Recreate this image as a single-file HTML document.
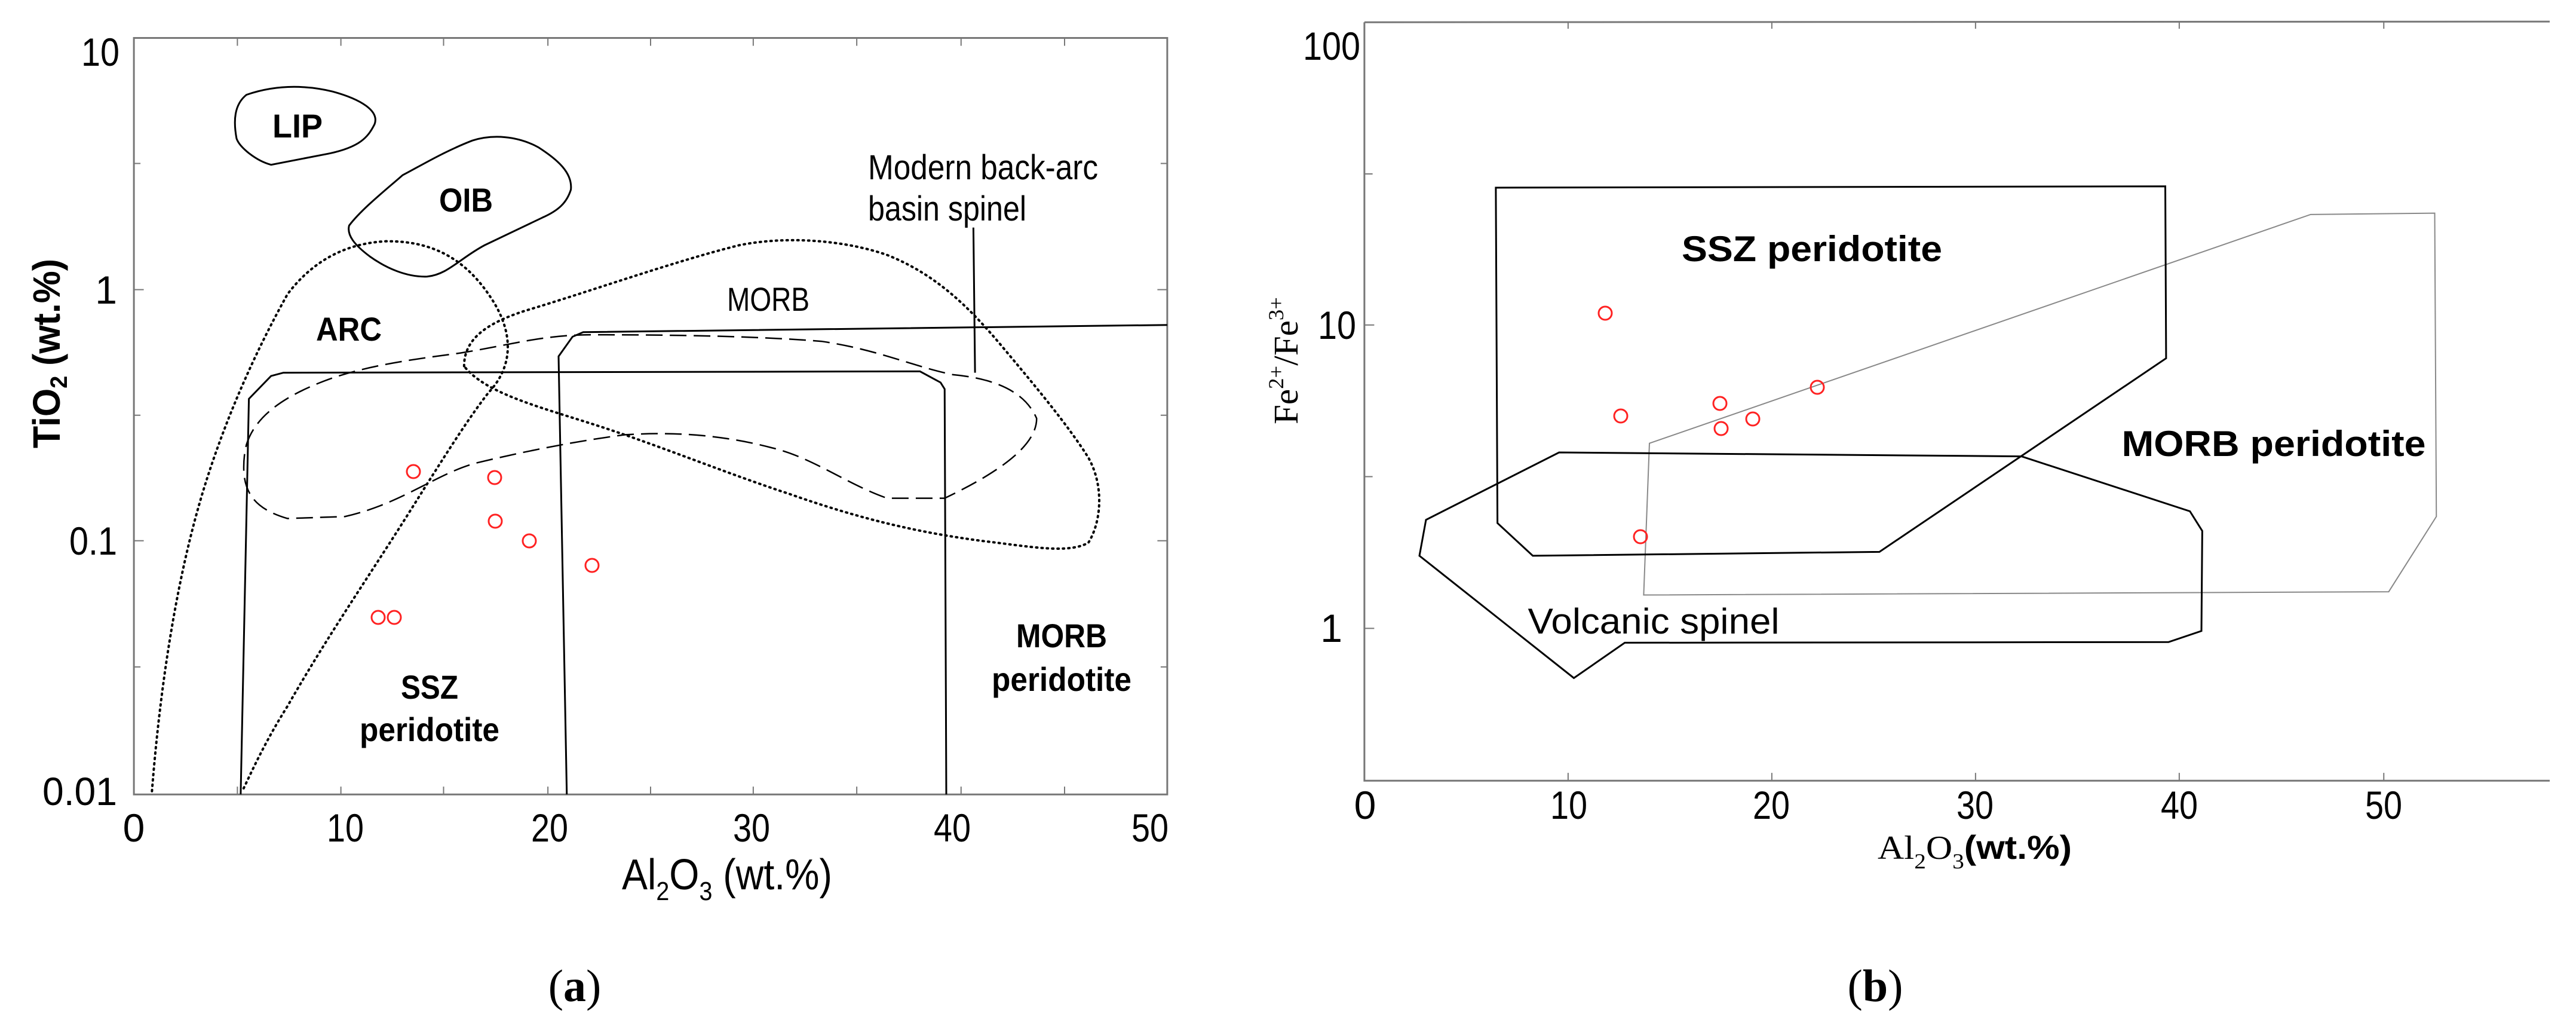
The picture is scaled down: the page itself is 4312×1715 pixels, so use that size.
<!DOCTYPE html>
<html><head><meta charset="utf-8"><style>
html,body{margin:0;padding:0;background:#fff;}
svg{display:block;}
.t{font-family:"Liberation Sans",sans-serif;fill:#000;}
.s{font-family:"Liberation Serif",serif;fill:#000;}
</style></head><body>
<svg width="4312" height="1715" viewBox="0 0 4312 1715" xmlns="http://www.w3.org/2000/svg">
<rect width="4312" height="1715" fill="#fff"/>

<!-- ============ PLOT A ============ -->
<g transform="scale(1.375,1.094)" fill="none" stroke="#000">
  <!-- axes frame -->
  <rect x="163" y="58" width="1258" height="1157" stroke="#777" stroke-width="3" vector-effect="non-scaling-stroke"/>
  <!-- ticks -->
  <g stroke="#777" stroke-width="2" vector-effect="non-scaling-stroke">
    <path vector-effect="non-scaling-stroke" d="M289,58v12 M415,58v12 M540,58v12 M667,58v12 M792,58v12 M917,58v12 M1043,58v12 M1170,58v12 M1296,58v12
    M289,1215v-12 M415,1215v-12 M540,1215v-12 M667,1215v-12 M792,1215v-12 M917,1215v-12 M1043,1215v-12 M1170,1215v-12 M1296,1215v-12
    M163,443h12 M163,827h12 M163,250h8 M163,635h8 M163,1020h8
    M1421,443h-12 M1421,827h-12 M1421,250h-8 M1421,635h-8 M1421,1020h-8"/>
  </g>
  <!-- LIP -->
  <path vector-effect="non-scaling-stroke" stroke-width="3" d="M300,145 C330,132 365,128 405,140 C440,152 462,170 456,190 C448,210 438,225 400,235 L330,252 C312,246 292,226 288,212 C284,185 285,160 300,145 Z"/>
  <!-- OIB -->
  <path vector-effect="non-scaling-stroke" stroke-width="3" d="M425,345 C440,320 470,290 490,268 C510,255 540,232 575,215 C600,205 630,208 655,225 C680,245 697,265 695,290 C690,310 680,322 660,333 L590,375 C560,395 545,420 520,423 C495,424 470,410 450,392 C432,375 422,360 425,345 Z"/>
  <!-- ARC dotted -->
  <path vector-effect="non-scaling-stroke" stroke-width="4" stroke-dasharray="2,7" stroke-linecap="round" d="M185,1210 C195,1050 215,880 250,740 C275,640 310,540 350,450 C380,400 420,372 470,369 C530,368 570,400 600,460 C625,510 625,560 595,600 C570,640 540,700 500,780 C450,880 400,970 350,1080 C325,1130 310,1170 295,1210"/>
  <!-- MORB dotted -->
  <path vector-effect="non-scaling-stroke" stroke-width="4" stroke-dasharray="2,7" stroke-linecap="round" d="M565,560 C565,520 590,495 640,475 C720,445 820,400 900,375 C960,360 1030,368 1080,390 C1140,420 1180,470 1220,530 C1260,590 1300,650 1325,700 C1345,745 1340,800 1325,830 C1300,848 1250,835 1200,828 C1120,815 1050,795 960,755 C880,722 800,680 720,648 C650,620 590,600 565,560 Z"/>
  <!-- dashed field -->
  <path vector-effect="non-scaling-stroke" stroke-width="2.5" stroke-dasharray="28,12" d="M300,680 C310,640 340,610 390,585 C440,560 500,550 560,540 C620,528 660,512 720,512 C820,512 920,514 1000,522 C1070,535 1110,560 1160,573 C1220,580 1250,605 1262,640 C1262,680 1220,720 1150,762 L1080,762 C1030,740 990,700 940,685 C880,665 820,660 760,665 C700,675 640,690 580,708 C530,725 490,770 420,790 L350,793 C315,780 300,760 297,725 C296,705 298,690 300,680 Z"/>
  <!-- solid boxes -->
  <path vector-effect="non-scaling-stroke" stroke-width="3" d="M293,1215 L303,610 L330,575 L345,570 L1120,568 L1145,585 L1150,595 L1152,1215"/>
  <path vector-effect="non-scaling-stroke" stroke-width="3" d="M690,1215 L680,545 L697,515 L710,508 L1421,497"/>
  <path vector-effect="non-scaling-stroke" stroke-width="3" d="M1185,348 L1187,570"/>
</g>
<!-- red points a -->
<g fill="none" stroke="#f22" stroke-width="3">
  <circle cx="692" cy="789" r="11"/><circle cx="828" cy="799" r="11"/><circle cx="829" cy="872" r="11"/>
  <circle cx="886" cy="905" r="11"/><circle cx="991" cy="946" r="11"/><circle cx="633" cy="1033" r="11"/><circle cx="660" cy="1033" r="11"/>
</g>
<!-- tick labels a -->
<g class="t" font-size="66" text-anchor="end">
  <text x="200" y="110" textLength="64" lengthAdjust="spacingAndGlyphs">10</text>
  <text x="196" y="508">1</text>
  <text x="196" y="928" textLength="80" lengthAdjust="spacingAndGlyphs">0.1</text>
  <text x="196" y="1347" textLength="125" lengthAdjust="spacingAndGlyphs">0.01</text>
</g>
<g class="t" font-size="66" text-anchor="middle">
  <text x="224" y="1408">0</text>
  <text x="578" y="1408" textLength="62" lengthAdjust="spacingAndGlyphs">10</text>
  <text x="920" y="1408" textLength="62" lengthAdjust="spacingAndGlyphs">20</text>
  <text x="1258" y="1408" textLength="62" lengthAdjust="spacingAndGlyphs">30</text>
  <text x="1594" y="1408" textLength="62" lengthAdjust="spacingAndGlyphs">40</text>
  <text x="1925" y="1408" textLength="62" lengthAdjust="spacingAndGlyphs">50</text>
</g>
<text class="t" x="1041" y="1488" font-size="72" textLength="352" lengthAdjust="spacingAndGlyphs">Al<tspan font-size="44" dy="18">2</tspan><tspan dy="-18">O</tspan><tspan font-size="44" dy="18">3</tspan><tspan dy="-18"> (wt.%)</tspan></text>
<text class="t" font-weight="bold" font-size="64" transform="translate(100,750) rotate(-90)" textLength="317" lengthAdjust="spacingAndGlyphs">TiO<tspan font-size="40" dy="12">2</tspan><tspan dy="-12"> (wt.%)</tspan></text>
<text class="s" x="962" y="1675" font-size="76" text-anchor="middle">(<tspan font-weight="bold">a</tspan>)</text>
<!-- region labels a -->
<g class="t" font-size="56" text-anchor="middle">
  <text x="498" y="230" font-weight="bold" textLength="84" lengthAdjust="spacingAndGlyphs">LIP</text>
  <text x="780" y="354" font-weight="bold" textLength="90" lengthAdjust="spacingAndGlyphs">OIB</text>
  <text x="584" y="570" font-weight="bold" textLength="110" lengthAdjust="spacingAndGlyphs">ARC</text>
  <text x="1286" y="520" textLength="138" lengthAdjust="spacingAndGlyphs">MORB</text>
  <text x="1777" y="1083" font-weight="bold" textLength="152" lengthAdjust="spacingAndGlyphs">MORB</text>
  <text x="1777" y="1156" font-weight="bold" textLength="234" lengthAdjust="spacingAndGlyphs">peridotite</text>
  <text x="719" y="1169" font-weight="bold" textLength="96" lengthAdjust="spacingAndGlyphs">SSZ</text>
  <text x="719" y="1240" font-weight="bold" textLength="234" lengthAdjust="spacingAndGlyphs">peridotite</text>
</g>
<g class="t" font-size="58">
  <text x="1453" y="300" textLength="385" lengthAdjust="spacingAndGlyphs">Modern back-arc</text>
  <text x="1453" y="369" textLength="265" lengthAdjust="spacingAndGlyphs">basin spinel</text>
</g>

<!-- ============ PLOT B ============ -->
<g transform="translate(2156,0) scale(1.375,1.094)" fill="none" stroke="#000">
  <path vector-effect="non-scaling-stroke" stroke="#777" stroke-width="3" d="M93,34 L1536,33 M93,34 L93,1194 L1536,1194"/>
  <path vector-effect="non-scaling-stroke" stroke="#777" stroke-width="2" d="M341,34v10 M589,34v10 M837,34v10 M1085,34v10 M1334,34v10
  M341,1194v-12 M589,1194v-12 M837,1194v-12 M1085,1194v-12 M1334,1194v-12
  M93,266h10 M93,497h12 M93,729h10 M93,961h12"/>
  <!-- MORB gray -->
  <path vector-effect="non-scaling-stroke" stroke="#888" stroke-width="2" d="M440,678 L1245,328 L1396,326 L1398,790 L1340,905 L433,910 Z"/>
  <!-- SSZ -->
  <path vector-effect="non-scaling-stroke" stroke-width="3" d="M253,287 L1068,285 L1069,548 L720,844 L298,850 L255,800 Z"/>
  <!-- Volcanic -->
  <path vector-effect="non-scaling-stroke" stroke-width="3" d="M330,692 L893,698 L1098,782 L1113,812 L1112,965 L1072,982 L410,983 L348,1037 L160,850 L168,795 Z"/>
</g>
<g fill="none" stroke="#f22" stroke-width="3">
  <circle cx="2687" cy="524" r="11"/><circle cx="2713" cy="696" r="11"/><circle cx="2879" cy="675" r="11"/>
  <circle cx="2881" cy="717" r="11"/><circle cx="2934" cy="701" r="11"/><circle cx="3042" cy="648" r="11"/><circle cx="2746" cy="898" r="11"/>
</g>
<g class="t" font-size="66" text-anchor="end">
  <text x="2277" y="100" textLength="96" lengthAdjust="spacingAndGlyphs">100</text>
  <text x="2270" y="567" textLength="64" lengthAdjust="spacingAndGlyphs">10</text>
  <text x="2247" y="1074">1</text>
</g>
<g class="t" font-size="66" text-anchor="middle">
  <text x="2285" y="1370">0</text>
  <text x="2626" y="1370" textLength="62" lengthAdjust="spacingAndGlyphs">10</text>
  <text x="2965" y="1370" textLength="62" lengthAdjust="spacingAndGlyphs">20</text>
  <text x="3306" y="1370" textLength="62" lengthAdjust="spacingAndGlyphs">30</text>
  <text x="3648" y="1370" textLength="62" lengthAdjust="spacingAndGlyphs">40</text>
  <text x="3990" y="1370" textLength="62" lengthAdjust="spacingAndGlyphs">50</text>
</g>
<text x="3143" y="1437" font-size="56" textLength="325" lengthAdjust="spacingAndGlyphs"><tspan class="s">Al</tspan><tspan class="s" font-size="36" dy="16">2</tspan><tspan class="s" dy="-16">O</tspan><tspan class="s" font-size="36" dy="16">3</tspan><tspan class="t" font-weight="bold" dy="-16">(wt.%)</tspan></text>
<text class="s" font-size="58" transform="translate(2172,710) rotate(-90)" textLength="213" lengthAdjust="spacingAndGlyphs">Fe<tspan font-size="36" dy="-24">2+</tspan><tspan dy="24">/Fe</tspan><tspan font-size="36" dy="-24">3+</tspan></text>
<text class="s" x="3139" y="1675" font-size="76" text-anchor="middle">(<tspan font-weight="bold">b</tspan>)</text>
<g class="t" font-size="60" text-anchor="middle">
  <text x="3033" y="437" font-weight="bold" textLength="436" lengthAdjust="spacingAndGlyphs">SSZ peridotite</text>
  <text x="3806" y="763" font-weight="bold" textLength="509" lengthAdjust="spacingAndGlyphs">MORB peridotite</text>
  <text x="2768" y="1060" textLength="421" lengthAdjust="spacingAndGlyphs">Volcanic spinel</text>
</g>
</svg>
</body></html>
